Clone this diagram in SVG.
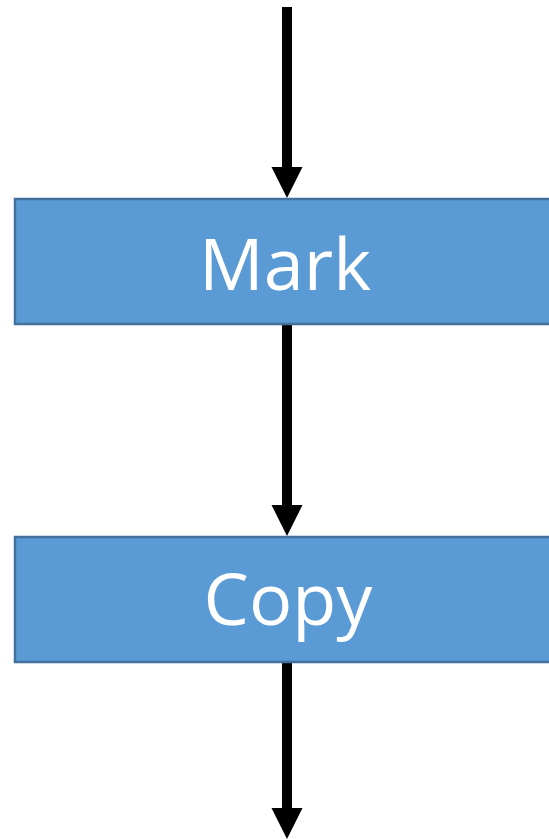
<svg xmlns="http://www.w3.org/2000/svg" width="549" height="839" viewBox="0 0 549 839">
  <style>
    .box { fill: #5b9bd5; stroke: #41719c; stroke-width: 2.5; }
    .label { font-family: "Open Sans", "Liberation Sans", sans-serif; font-size: 72px; fill: #ffffff; text-anchor: middle; }
    .shaft { stroke: #000000; stroke-width: 10; fill: none; }
    .head { fill: #000000; }
  </style>
  <rect width="549" height="839" fill="#ffffff"/>
  <g id="connectors">
    <line class="shaft" x1="287" y1="7" x2="287" y2="170"/>
    <polygon class="head" points="271.5,167 302.5,167 287,198"/>
    <line class="shaft" x1="287" y1="325" x2="287" y2="508"/>
    <polygon class="head" points="271.5,505 302.5,505 287,536"/>
    <line class="shaft" x1="287" y1="663" x2="287" y2="811"/>
    <polygon class="head" points="271.5,808 302.5,808 287,839"/>
  </g>
  <g id="mark">
    <rect class="box" x="15" y="199" width="550" height="125"/>
    <text class="label" x="285" y="290">Mark</text>
  </g>
  <g id="copy">
    <rect class="box" x="15" y="537" width="550" height="125"/>
    <text class="label" x="288" y="625">Copy</text>
  </g>
</svg>
